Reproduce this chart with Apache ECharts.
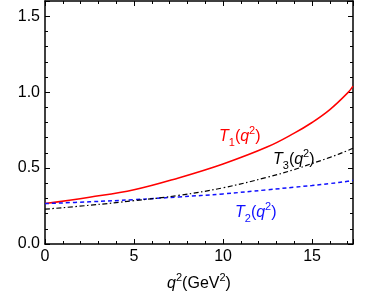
<!DOCTYPE html>
<html>
<head>
<meta charset="utf-8">
<script src="https://cdn.jsdelivr.net/npm/echarts@6/dist/echarts.min.js"></script>
<style>html,body{margin:0;padding:0;background:#fff;}#c{width:371px;height:297px;}</style>
</head>
<body>
<div id="c"></div>
<script>
const q2 = [0, 2.5, 5, 7.5, 10, 12.5, 14, 15, 16, 17, 17.3];
const T1 = [0.266, 0.308, 0.357, 0.435, 0.527, 0.64, 0.73, 0.80, 0.885, 0.995, 1.04];
const T2 = [0.266, 0.278, 0.292, 0.31, 0.33, 0.357, 0.374, 0.385, 0.398, 0.413, 0.42];
const T3 = [0.229, 0.255, 0.285, 0.32, 0.37, 0.44, 0.49, 0.53, 0.57, 0.615, 0.63];
const xTicks = [0, 5, 10, 15];
const yTicks = [0.0, 0.5, 1.0, 1.5];

const pairs = ys => q2.map((x, i) => [x, ys[i]]);
const font = '"Liberation Sans", Arial, Helvetica, sans-serif';
function axCommon() {
  return {
    axisLine: {show: true, onZero: false, lineStyle: {color: '#000', width: 1.5}},
    axisTick: {show: true, inside: true, length: 5, lineStyle: {color: '#000', width: 1}},
    minorTick: {show: true, splitNumber: 5, length: 3, lineStyle: {color: '#000', width: 1}},
    splitLine: {show: false}
  };
}
const chart = echarts.init(document.getElementById('c'));
const rich = {
  t: {fontStyle: 'italic', fontSize: 16, fontFamily: font, lineHeight: 22, verticalAlign: 'bottom'},
  n: {fontSize: 16, fontFamily: font, lineHeight: 22, verticalAlign: 'bottom'},
  sub: {fontSize: 11, fontFamily: font, lineHeight: 22, verticalAlign: 'bottom', padding: [0, 0, -3, 0]},
  sup: {fontSize: 11, fontFamily: font, lineHeight: 22, verticalAlign: 'top', padding: [2, 0, 0, 0]}
};
function lbl(idx, color, left, top) {
  return {
    type: 'text', left: left, top: top,
    style: {
      text: '{t|T}{sub|' + idx + '}{n|(}{t|q}{sup|2}{n|)}',
      rich: rich, fill: color
    }
  };
}
chart.setOption({
  animation: false,
  grid: {left: 45, right: 18, top: 1, bottom: 50},
  xAxis: [
    Object.assign(axCommon(), {
      type: 'value', min: 0, max: 17.3, interval: 5,
      name: '{q|q}{s|2}{n|(GeV}{s|2}{n|)}', nameLocation: 'middle', nameGap: 26,
      nameTextStyle: {rich: {
        q: {fontStyle: 'italic', fontSize: 16, fontFamily: font, color: '#000', lineHeight: 22, verticalAlign: 'bottom'},
        n: {fontSize: 16, fontFamily: font, color: '#000', lineHeight: 22, verticalAlign: 'bottom'},
        s: {fontSize: 11, fontFamily: font, color: '#000', lineHeight: 22, verticalAlign: 'top', padding: [2, 0, 0, 0]}
      }},
      axisLabel: {show: true, color: '#000', fontSize: 16, fontFamily: font, margin: 5,
        showMaxLabel: false,
        formatter: v => xTicks.indexOf(v) >= 0 ? String(v) : ''}
    }),
    Object.assign(axCommon(), {
      type: 'value', position: 'top', min: 0, max: 17.3, interval: 5,
      axisLabel: {show: false}
    })
  ],
  yAxis: [
    Object.assign(axCommon(), {
      type: 'value', min: 0, max: 1.6, interval: 0.5,
      axisLabel: {show: true, color: '#000', fontSize: 16, fontFamily: font, margin: 5,
        showMaxLabel: false,
        formatter: v => yTicks.some(t => Math.abs(t - v) < 1e-9) ? v.toFixed(1) : ''}
    }),
    Object.assign(axCommon(), {
      type: 'value', position: 'right', min: 0, max: 1.6, interval: 0.5,
      axisLabel: {show: false}
    })
  ],
  series: [
    {type: 'line', data: pairs(T1), smooth: 0.4, showSymbol: false,
      lineStyle: {color: '#ff0000', width: 1.5, type: 'solid'}},
    {type: 'line', data: pairs(T2), smooth: 0.4, showSymbol: false,
      lineStyle: {color: '#1010ff', width: 1.5, type: [4, 3]}},
    {type: 'line', data: pairs(T3), smooth: 0.4, showSymbol: false,
      lineStyle: {color: '#000', width: 1.2, type: [5, 2.5, 1.5, 2.5]}}
  ],
  graphic: [
    lbl(1, '#ff0000', 219, 123),
    lbl(3, '#000', 273, 146),
    lbl(2, '#1010ff', 235, 199)
  ]
});
</script>
</body>
</html>
